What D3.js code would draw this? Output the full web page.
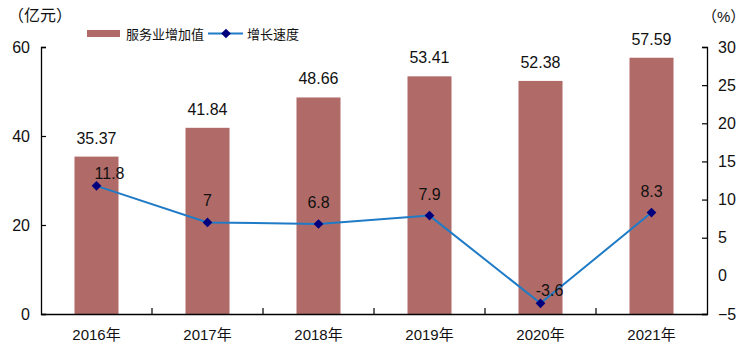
<!DOCTYPE html>
<html><head><meta charset="utf-8">
<script src="https://cdn.jsdelivr.net/npm/d3@7"></script>
<style>body{margin:0;background:#fff}svg{display:block}</style>
</head><body><svg id="c" width="752" height="359"></svg>
<script>
const years = ["2016年","2017年","2018年","2019年","2020年","2021年"];
const serviceValue = [35.37, 41.84, 48.66, 53.41, 52.38, 57.59];
const growthRate = [11.8, 7, 6.8, 7.9, -3.6, 8.3];
const leftTicks = [0, 20, 40, 60];
const rightTicks = [-5, 0, 5, 10, 15, 20, 25, 30];
// label placement tweaks (layout only)
const growthLabelDx = [13, 0, 0, 0, 9, 0];
const growthLabelDy = [-13, -22, -22, -22, -13, -22];

const svg = d3.select("#c");
const font = "Arial, 'Liberation Sans', 'Noto Sans CJK SC', sans-serif";
const L = 41, R = 707, T = 47, B = 314;
const x = d3.scaleBand().domain(years).range([L, R]).paddingInner(0.6).paddingOuter(0.3);
const xc = d3.scaleBand().domain(years).range([L, R]);
const yL = d3.scaleLinear().domain([0, 60]).range([B, T]);
const yR = d3.scaleLinear().domain([-5, 30]).range([B, T]);

// bars
svg.selectAll("rect.bar").data(serviceValue).join("rect")
  .attr("x", (d,i)=> xc(years[i]) + xc.bandwidth()/2 - 22)
  .attr("width", 44)
  .attr("y", d=>yL(d)).attr("height", d=>B - yL(d))
  .attr("fill", "#B06B68");

// axes
const gl = svg.append("g").attr("transform", `translate(${L},0)`)
  .call(d3.axisLeft(yL).tickValues(leftTicks).tickSize(-5).tickPadding(11));
const gr = svg.append("g").attr("transform", `translate(${R},0)`)
  .call(d3.axisRight(yR).tickValues(rightTicks).tickSize(-5).tickPadding(11));
const gx = svg.append("g").attr("transform", `translate(0,${B})`)
  .call(d3.axisBottom(xc).tickSize(0).tickPadding(12));
[gl, gr, gx].forEach(g => {
  g.select(".domain").attr("stroke", "#000").attr("stroke-width", 1.3);
  g.selectAll(".tick line").attr("stroke", "#000").attr("stroke-width", 1.2);
  g.selectAll("text").attr("font-family", font).attr("fill", "#111");
});
gl.selectAll("text").attr("font-size", 16);
gr.selectAll("text").attr("font-size", 16);
gx.selectAll("text").attr("font-size", 15).attr("dy", "0.9em");
gr.selectAll(".tick").filter(d=>d===0).select("line").remove();
// inner category separator ticks on x axis
svg.selectAll("line.sep").data(years.slice(1)).join("line")
  .attr("x1", d=>xc(d)).attr("x2", d=>xc(d))
  .attr("y1", B).attr("y2", B-6).attr("stroke", "#000").attr("stroke-width", 1.2);

// bar labels
svg.selectAll("text.bl").data(serviceValue).join("text")
  .attr("x", (d,i)=> xc(years[i]) + xc.bandwidth()/2)
  .attr("y", d=>yL(d) - 13)
  .attr("text-anchor", "middle").attr("font-family", font).attr("font-size", 16).attr("fill", "#111")
  .text(d=>d.toFixed(2));

// line
const line = d3.line().x((d,i)=> xc(years[i]) + xc.bandwidth()/2).y(d=>yR(d));
svg.append("path").datum(growthRate).attr("d", line)
  .attr("fill", "none").attr("stroke", "#1F7BC6").attr("stroke-width", 2);
const diamond = d3.symbol().type(d3.symbolDiamond2).size(60);
svg.selectAll("path.mk").data(growthRate).join("path")
  .attr("transform", (d,i)=>`translate(${xc(years[i]) + xc.bandwidth()/2},${yR(d)})`)
  .attr("d", diamond).attr("fill", "#00007F");
svg.selectAll("text.gl").data(growthRate).join("text")
  .attr("x", (d,i)=> xc(years[i]) + xc.bandwidth()/2 + growthLabelDx[i])
  .attr("y", (d,i)=> yR(d) + growthLabelDy[i] + 6)
  .attr("text-anchor", "middle").attr("font-family", font).attr("font-size", 16).attr("fill", "#111")
  .text(d=>d);

// units
svg.append("text").attr("x", 8).attr("y", 21).attr("font-family", font).attr("font-size", 16).attr("fill","#111").text("（亿元）");
svg.append("text").attr("x", 702).attr("y", 22).attr("font-family", font).attr("font-size", 15).attr("fill","#111").text("（%）");

// legend
const lg = svg.append("g");
lg.append("rect").attr("x", 87).attr("y", 30).attr("width", 33).attr("height", 7).attr("fill", "#B06B68");
lg.append("text").attr("x", 126).attr("y", 38.5).attr("font-family", font).attr("font-size", 13).attr("fill","#111").text("服务业增加值");
lg.append("line").attr("x1", 208).attr("x2", 243).attr("y1", 33.5).attr("y2", 33.5).attr("stroke", "#1F7BC6").attr("stroke-width", 2);
lg.append("path").attr("transform", "translate(226,33.5)").attr("d", diamond).attr("fill", "#00007F");
lg.append("text").attr("x", 247).attr("y", 38.5).attr("font-family", font).attr("font-size", 13).attr("fill","#111").text("增长速度");
</script></body></html>
